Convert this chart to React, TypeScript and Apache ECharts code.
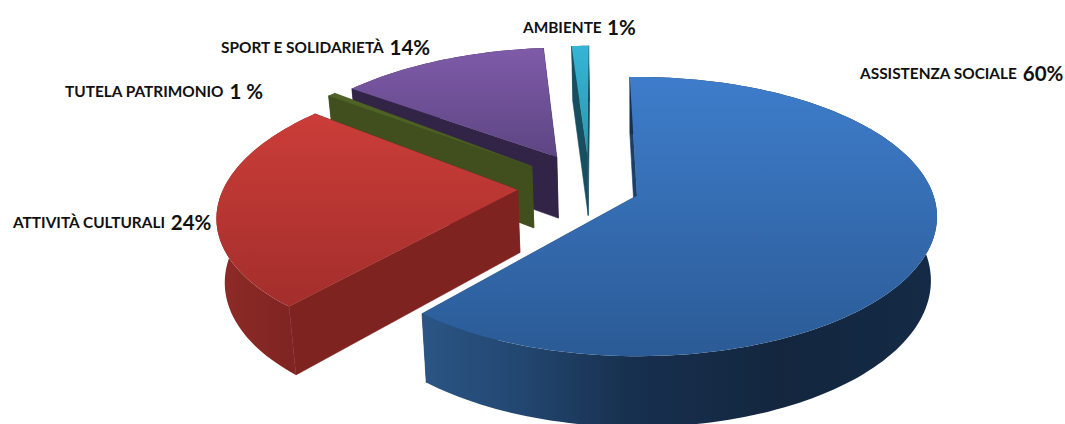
import React, { useEffect, useRef } from "react";
import * as echarts from "echarts";

const CATEGORIES = ["ASSISTENZA SOCIALE", "ATTIVITÀ CULTURALI", "TUTELA PATRIMONIO", "SPORT E SOLIDARIETÀ", "AMBIENTE"];
const VALUES = [60, 24, 1, 14, 1];
const VALUE_LABELS = ["60%", "24%", "1 %", "14%", "1%"];

const TOP_COLORS = [["#3e7dcb", "#2b5b96"], ["#cb3d38", "#a32e2c"], ["#4f6425", "#4a5c22"], ["#7f5ba9", "#5d4583"], ["#35b5d6", "#2b98ae"]];
const CUT_COLORS = ["#1b3f68", "#7f2321", "#414f1e", "#322447", "#174e60"];

// Explosion of each slice on the disc plane, and the fit of Excel's 3D projection.
const EXPLODE_U = [0.01, -0.395, -0.356, -0.272, -0.165];
const EXPLODE_V = [-0.01, -0.052, -0.232, -0.305, -0.325];
const SPIN = [1.25, 4.8, 3.5, -0.7, -1.2];
const SPREAD = [1.0255, 1.02, 0.5, 0.96, 1.1];
const DRAW_ORDER = [50, 40, 20, 10, 5];

const LABEL_X = [860, 13, 65, 221, 523];
const LABEL_Y = [73, 222, 91, 47, 27];

const CX = 634, CY = 197, R = 297, RT = 136.9, K = 0.15, DEPTH = 63, SHRINK = 0.98;

function project(u: number, v: number, down: boolean): number[] {
  const s = 1 / (1 - K * v);
  const x = CX + R * u * s;
  const y = CY + RT * v * s;
  if (!down) return [x, y];
  return [CX + (x - CX) * SHRINK, CY + (y - CY) * SHRINK + DEPTH * s];
}

const total = VALUES.reduce((a, b) => a + b, 0);

function renderSlice(params: any, api: any) {
  const i = params.dataIndex;
  const value = api.value(0);
  const before = VALUES.slice(0, i).reduce((a, b) => a + b, 0);
  const mid = ((before + value / 2) / total) * 360 + SPIN[i];
  const half = (value / total) * 180 * SPREAD[i];
  const a0 = mid - half;
  const a1 = mid + half;
  const au = EXPLODE_U[i];
  const av = EXPLODE_V[i];
  const n = Math.max(2, Math.ceil((a1 - a0) / 1.5));
  const arcTop: number[][] = [];
  const arcBottom: number[][] = [];
  for (let k = 0; k <= n; k++) {
    const t = ((a0 + ((a1 - a0) * k) / n) * Math.PI) / 180;
    const u = au + Math.sin(t);
    const v = av - Math.cos(t);
    arcTop.push(project(u, v, false));
    arcBottom.push(project(u, v, true));
  }
  const apexTop = project(au, av, false);
  const apexBottom = project(au, av, true);
  const z = DRAW_ORDER[i];
  const outerFill =
    i === 0
      ? {
          type: "linear", x: 0, y: 0, x2: 1, y2: 0,
          colorStops: [
            { offset: 0, color: "#2b5585" },
            { offset: 0.2, color: "#22466f" },
            { offset: 0.4, color: "#17304f" },
            { offset: 0.7, color: "#13263e" },
            { offset: 1, color: "#142a46" },
          ],
        }
      : i === 1
      ? {
          type: "linear", x: 0, y: 0, x2: 1, y2: 0,
          colorStops: [
            { offset: 0, color: "#8e2b27" },
            { offset: 1, color: "#7a2220" },
          ],
        }
      : CUT_COLORS[i];
  const topFill = {
    type: "linear", x: 0, y: 0, x2: 0, y2: 1,
    colorStops: [
      { offset: 0, color: TOP_COLORS[i][0] },
      { offset: 1, color: TOP_COLORS[i][1] },
    ],
  };
  const last = arcTop.length - 1;
  return {
    type: "group",
    children: [
      {
        type: "polygon", z2: z,
        shape: { points: [apexTop, arcTop[0], arcBottom[0], apexBottom] },
        style: { fill: CUT_COLORS[i], stroke: CUT_COLORS[i], lineWidth: 0.6 },
      },
      {
        type: "polygon", z2: z + 1,
        shape: { points: [apexTop, arcTop[last], arcBottom[last], apexBottom] },
        style: { fill: CUT_COLORS[i], stroke: CUT_COLORS[i], lineWidth: 0.6 },
      },
      {
        type: "polygon", z2: z + 2,
        shape: { points: [...arcTop, ...arcBottom.slice().reverse()] },
        style: { fill: outerFill },
      },
      {
        type: "polygon", z2: z + 3,
        shape: { points: [apexTop, ...arcTop] },
        style: { fill: topFill },
      },
    ],
  };
}

export default function App() {
  const ref = useRef<HTMLDivElement>(null);
  useEffect(() => {
    const chart = echarts.init(ref.current!, null, { renderer: "svg" });
    chart.setOption({
      animation: false,
      backgroundColor: "#ffffff",
      series: [
        {
          type: "custom",
          coordinateSystem: "none",
          clip: false,
          silent: true,
          data: VALUES,
          renderItem: renderSlice,
        },
      ],
      graphic: CATEGORIES.map((name, i) => ({
        type: "text",
        x: LABEL_X[i],
        y: LABEL_Y[i],
        z: 100,
        style: {
          text: `{a|${name}} {b|${VALUE_LABELS[i]}}`,
          verticalAlign: "middle",
          align: "left",
          rich: {
            a: { fontFamily: "Lato", fontSize: 15.4, fontWeight: "bold", fill: "#111111", verticalAlign: "middle" },
            b: { fontFamily: "Lato", fontSize: 20.5, fontWeight: "bold", fill: "#111111", verticalAlign: "middle", padding: [0, 0, 0, 2] },
          },
        },
      })),
    });
    return () => chart.dispose();
  }, []);
  return <div ref={ref} style={{ position: "absolute", left: 0, top: 0, width: 1065, height: 424 }} />;
}
